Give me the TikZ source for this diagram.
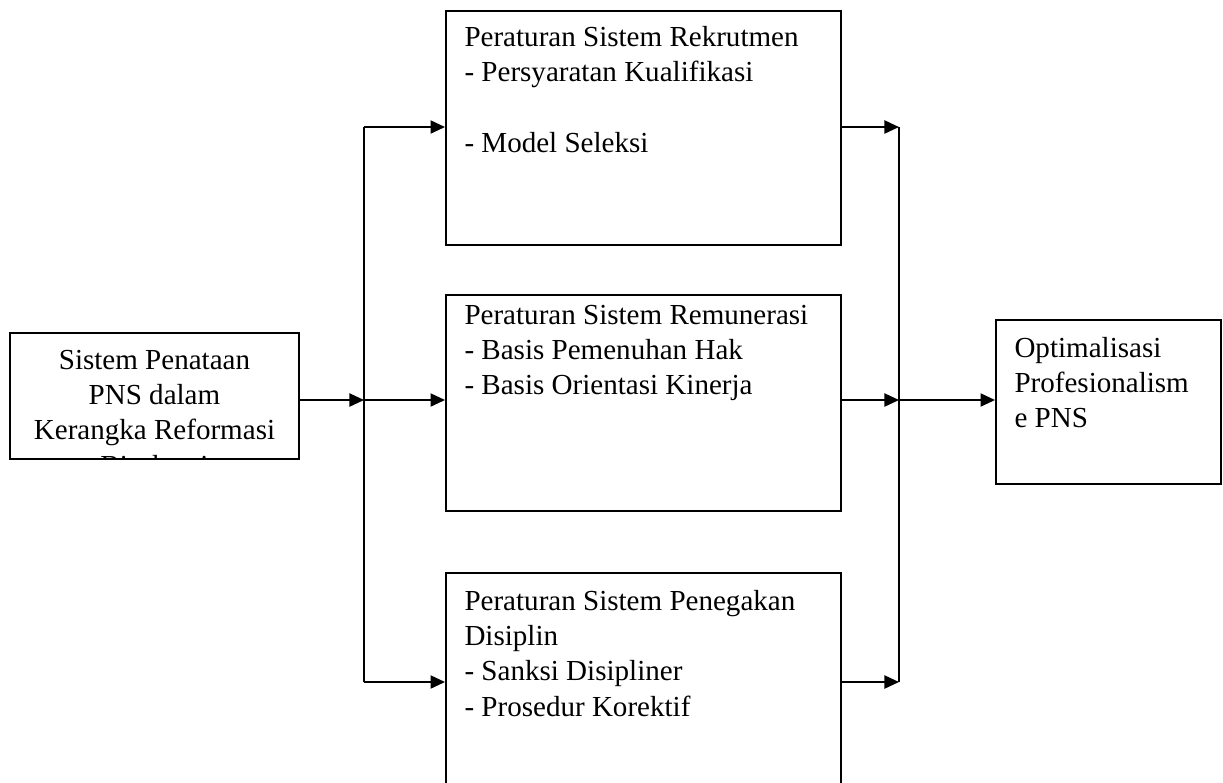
\documentclass[tikz,border=0pt]{standalone}
\usepackage{fontspec}
\setmainfont{Liberation Serif}
\usetikzlibrary{arrows.meta, fit, calc}

\tikzset{
  box/.style={draw, line width=0.8pt, inner sep=0pt},
  boxtext/.style={anchor=north west, align=left, inner sep=0pt,
    font=\fontsize{12}{14.5}\selectfont},
  link/.style={line width=0.8pt},
  arr/.style={link, -{Triangle[length=6pt,width=5.4pt]}}
}

\begin{document}
\begin{tikzpicture}[x=0.413pt, y=-0.413pt]

  % Page frame (pixel grid of the reference)
  \clip (0,0) rectangle (1223,782);

  % Draw the boxes
  \node[box, fit={(10,333) (299,459)}] (penataan) {};
  \node[box, fit={(446,11) (841,245)}] (rekrutmen) {};
  \node[box, fit={(446,295) (841,511)}] (remunerasi) {};
  \node[box, fit={(446,573) (841,820)}] (disiplin) {};
  \node[box, fit={(996,320) (1221,484)}] (optimal) {};

  % Texts inside the boxes
  \begin{scope}
    \clip (penataan.south west) rectangle (penataan.north east);
    \node[boxtext, anchor=north, align=center] (penataan-text)
      at ($(penataan.north)+(0,18)$)
      {Sistem Penataan\\PNS dalam\\Kerangka Reformasi\\Birokrasi};
  \end{scope}

  \node[boxtext] (rekrutmen-text) at ($(rekrutmen.north west)+(19,16)$)
    {Peraturan Sistem Rekrutmen\\- Persyaratan Kualifikasi\\[14.5pt]- Model Seleksi};
  \node[boxtext] (remunerasi-text) at ($(remunerasi.north west)+(19,11)$)
    {Peraturan Sistem Remunerasi\\- Basis Pemenuhan Hak\\- Basis Orientasi Kinerja};
  \node[boxtext] (disiplin-text) at ($(disiplin.north west)+(19,18)$)
    {Peraturan Sistem Penegakan\\Disiplin\\- Sanksi Disipliner\\- Prosedur Korektif};
  \node[boxtext] (optimal-text) at ($(optimal.north west)+(19,18)$)
    {Optimalisasi\\Profesionalism\\e PNS};

  % Branch and join points
  \coordinate (split) at (364,400);
  \coordinate (split-top) at (364,127);
  \coordinate (split-bot) at (364,682);
  \coordinate (join) at (899,400);
  \coordinate (join-top) at (899,127);
  \coordinate (join-bot) at (899,682);

  % Left side: one input spread to three boxes
  \draw[arr] (penataan.east |- split) -- (split);
  \draw[link] (split-top) -- (split-bot);
  \draw[arr] (split-top) -- (split-top -| rekrutmen.west);
  \draw[arr] (split) -- (split -| remunerasi.west);
  \draw[arr] (split-bot) -- (split-bot -| disiplin.west);

  % Right side: three boxes gathered into the result
  \draw[arr] (rekrutmen.east |- join-top) -- (join-top);
  \draw[arr] (remunerasi.east |- join) -- (join);
  \draw[arr] (disiplin.east |- join-bot) -- (join-bot);
  \draw[link] (join-top) -- (join-bot);
  \draw[arr] (join) -- (join -| optimal.west);

\end{tikzpicture}
\end{document}
